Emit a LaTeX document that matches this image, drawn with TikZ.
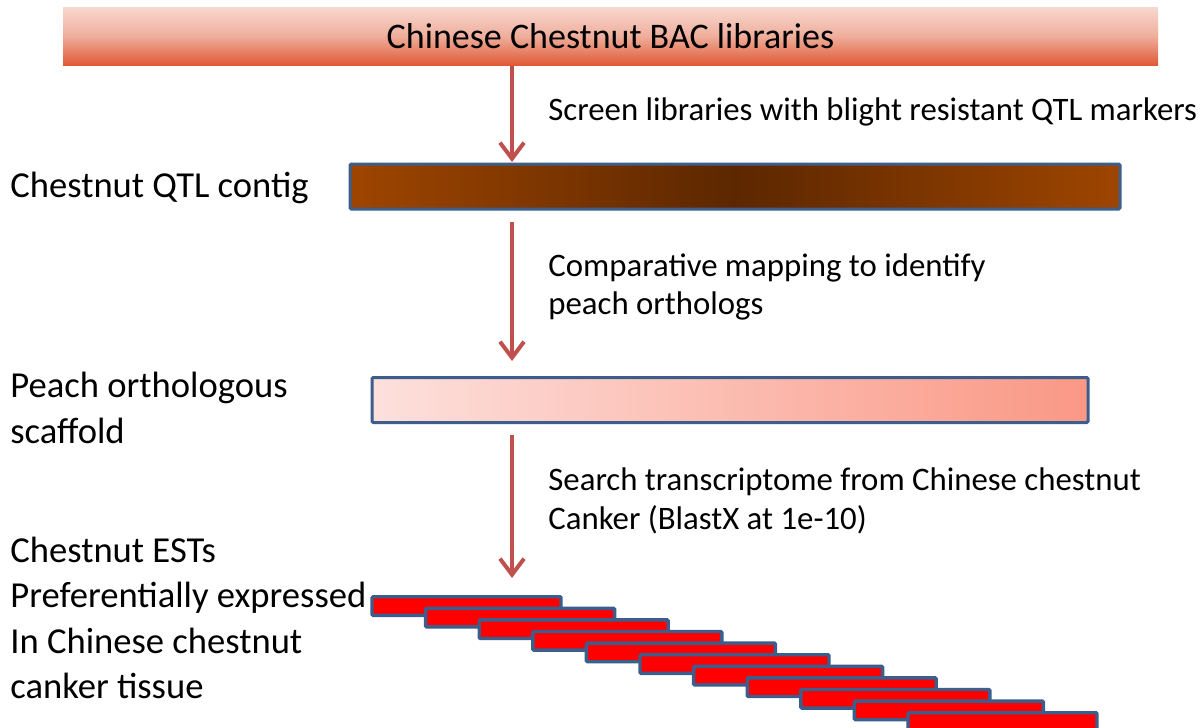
\documentclass[tikz,border=0pt]{standalone}
\usepackage{fontspec}
\setmainfont{Carlito}
\usetikzlibrary{arrows.meta}
\definecolor{arrowred}{HTML}{C0504D}
\definecolor{bord}{HTML}{3B5E8C}
\definecolor{toplight}{HTML}{F8D8CF}
\definecolor{topmid}{HTML}{EFAE9C}
\definecolor{topdark}{HTML}{E05A35}
\definecolor{brownout}{HTML}{9E4500}
\definecolor{brownin}{HTML}{5C2700}
\definecolor{pinkl}{HTML}{FDE0DC}
\definecolor{pinkr}{HTML}{FA9885}
\definecolor{estred}{HTML}{FF0000}
\tikzset{
  lbl/.style={anchor=west, inner sep=0pt, font=\fontsize{16.4pt}{19.2pt}\selectfont, align=left},
  leftlbl/.style={anchor=west, inner sep=0pt, font=\fontsize{18.3pt}{22.7pt}\selectfont, align=left},
  barbox/.style={draw=bord, line width=1.5pt, rounded corners=0.6pt, inner sep=0pt},
  estbar/.style={barbox, line width=1.7pt, fill=estred, minimum width=94.5pt, minimum height=9.3pt},
  flow/.style={draw=arrowred, line width=2pt, -{Straight Barb[length=8pt,width=12pt]}}
}
\begin{document}
\begin{tikzpicture}[x=0.5pt,y=-0.5pt]
\useasboundingbox (0,0) rectangle (1201,728);
% top bar
\node[inner sep=0pt, minimum width=547.5pt, minimum height=29pt,
      top color=toplight, bottom color=topdark, middle color=topmid,
      font=\fontsize{18pt}{21pt}\selectfont] (top) at (610.5,36) {Chinese Chestnut BAC libraries};
% QTL contig bar
\node[barbox, minimum width=385pt, minimum height=22.5pt,
      left color=brownout, right color=brownout, middle color=brownin] (qtl) at (735,186.5) {};
% peach bar
\node[barbox, minimum width=358pt, minimum height=22.5pt,
      left color=pinkl, right color=pinkr] (peach) at (730,400) {};
% EST bars
\foreach \i in {0,...,10}{
  \node[estbar] (est\i) at ({466.5+53.6*\i},{606+11.6*\i}) {};
}
% left labels
\node[leftlbl] (l1) at (10,188) {Chestnut QTL contig};
\node[leftlbl] (l2) at (10,408) {Peach orthologous\\scaffold};
\node[leftlbl] (l3) at (10,618) {Chestnut ESTs\\Preferentially expressed\\In Chinese chestnut\\canker tissue};
% step labels
\node[lbl] (s1) at (548,112) {Screen libraries with blight resistant QTL markers};
\node[lbl] (s2) at (548,287) {Comparative mapping to identify\\peach orthologs};
\node[lbl] (s3) at (548,501) {Search transcriptome from Chinese chestnut\\Canker (BlastX at 1e-10)};
% arrows
\coordinate (a1s) at (512,66);
\coordinate (a1e) at (512,162);
\coordinate (a2s) at (512,222);
\coordinate (a2e) at (512,361);
\coordinate (a3s) at (512,435);
\coordinate (a3e) at (512,578);
\draw[flow] (a1s) -- (a1e);
\draw[flow] (a2s) -- (a2e);
\draw[flow] (a3s) -- (a3e);
\end{tikzpicture}
\end{document}
